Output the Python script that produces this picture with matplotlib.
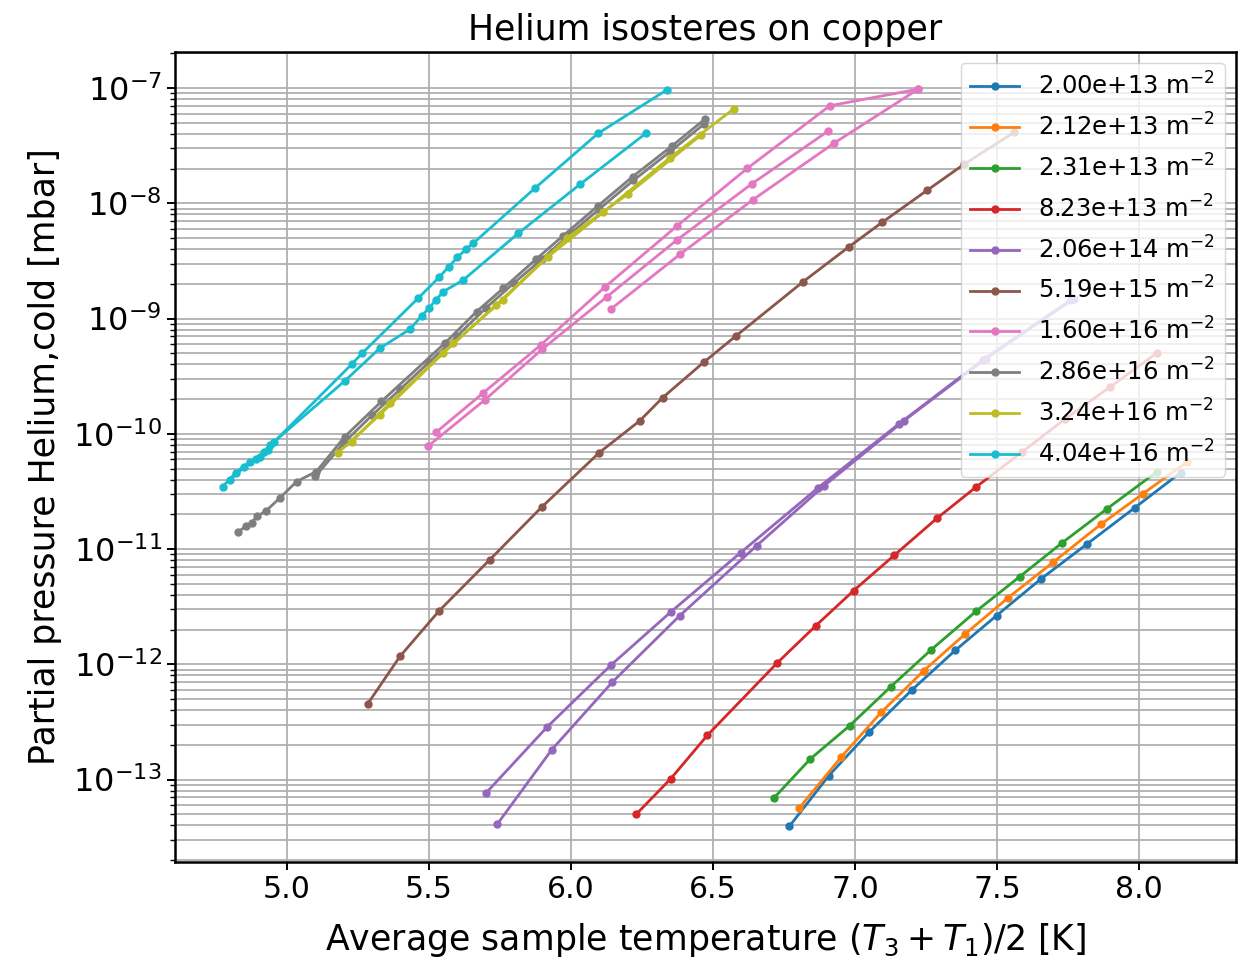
import matplotlib
matplotlib.use("Agg")
import matplotlib.pyplot as plt
import numpy as np

# ---- data ----
labels = ["2.00e+13", "2.12e+13", "2.31e+13", "8.23e+13", "2.06e+14",
          "5.19e+15", "1.60e+16", "2.86e+16", "3.24e+16", "4.04e+16"]

# 2.00e+13
T_blue = [6.769, 6.908, 7.050, 7.200, 7.353, 7.499, 7.654, 7.818, 7.986, 8.147]
p_blue = [3.92e-14, 1.08e-13, 2.58e-13, 5.97e-13, 1.32e-12, 2.65e-12, 5.48e-12, 1.11e-11, 2.29e-11, 4.61e-11]
# 2.12e+13
T_orange = [6.804, 6.951, 7.092, 7.243, 7.389, 7.540, 7.698, 7.866, 8.015, 8.171]
p_orange = [5.66e-14, 1.56e-13, 3.82e-13, 8.83e-13, 1.84e-12, 3.79e-12, 7.69e-12, 1.64e-11, 3.03e-11, 5.74e-11]
# 2.31e+13
T_green = [6.715, 6.843, 6.982, 7.126, 7.269, 7.427, 7.581, 7.729, 7.887, 8.064]
p_green = [6.92e-14, 1.51e-13, 2.94e-13, 6.38e-13, 1.34e-12, 2.89e-12, 5.78e-12, 1.13e-11, 2.23e-11, 4.70e-11]
# 8.23e+13
T_red = [6.230, 6.352, 6.481, 6.725, 6.863, 6.996, 7.139, 7.289, 7.427, 7.590, 7.739, 7.898, 8.062]
p_red = [5.0e-14, 1.02e-13, 2.43e-13, 1.02e-12, 2.17e-12, 4.37e-12, 8.85e-12, 1.85e-11, 3.46e-11, 7.0e-11, 1.34e-10, 2.54e-10, 5.0e-10]
# 2.06e+14 (two runs)
T_purple_a = [5.701, 5.917, 6.141, 6.352, 6.598, 6.871, 7.155, 7.45, 7.76]
p_purple_a = [7.64e-14, 2.87e-13, 9.84e-13, 2.85e-12, 9.33e-12, 3.41e-11, 1.22e-10, 4.37e-10, 1.45e-9]
T_purple_b = [5.741, 5.933, 6.146, 6.383, 6.654, 6.891, 7.173, 7.46, 7.77]
p_purple_b = [4.11e-14, 1.82e-13, 7.01e-13, 2.64e-12, 1.07e-11, 3.53e-11, 1.30e-10, 4.47e-10, 1.48e-9]
# 5.19e+15
T_brown = [5.284, 5.398, 5.536, 5.715, 5.897, 6.100, 6.243, 6.323, 6.468, 6.581,
           6.818, 6.980, 7.096, 7.255, 7.384, 7.560]
p_brown = [4.52e-13, 1.17e-12, 2.91e-12, 8.11e-12, 2.31e-11, 6.87e-11, 1.30e-10, 2.06e-10, 4.18e-10, 7.06e-10,
           2.09e-9, 4.21e-9, 6.84e-9, 1.30e-8, 2.18e-8, 4.12e-8]
# 1.60e+16 (three runs)
T_pink_a = [5.525, 5.691, 5.894, 6.120, 6.372, 6.621, 6.912, 7.223]
p_pink_a = [1.03e-10, 2.26e-10, 5.90e-10, 1.88e-9, 6.31e-9, 2.01e-8, 7.03e-8, 9.79e-8]
T_pink_b = [5.498, 5.697, 5.899, 6.126, 6.372, 6.636, 6.906]
p_pink_b = [7.85e-11, 1.97e-10, 5.42e-10, 1.54e-9, 4.78e-9, 1.47e-8, 4.24e-8]
T_pink_c = [6.141, 6.384, 6.640, 6.926, 7.223]
p_pink_c = [1.21e-9, 3.61e-9, 1.07e-8, 3.32e-8, 9.79e-8]
# 2.86e+16 (two runs)
T_gray_a = [4.829, 4.856, 4.876, 4.895, 4.928, 4.975, 5.034, 5.104, 5.204, 5.333,
            5.556, 5.668, 5.762, 5.877, 5.973, 6.096, 6.217, 6.357, 6.472]
p_gray_a = [1.42e-11, 1.57e-11, 1.70e-11, 1.92e-11, 2.16e-11, 2.77e-11, 3.85e-11, 4.71e-11, 9.46e-11, 1.91e-10,
            6.11e-10, 1.15e-9, 1.83e-9, 3.27e-9, 5.24e-9, 9.53e-9, 1.70e-8, 3.16e-8, 5.38e-8]
T_gray_b = [5.10, 5.20, 5.30, 5.40, 5.50, 5.60, 5.70, 5.80, 5.90, 6.00, 6.10, 6.22, 6.35, 6.47]
p_gray_b = [4.27e-11, 8.32e-11, 1.45e-10, 2.45e-10, 4.17e-10, 7.08e-10, 1.23e-9, 2.04e-9, 3.31e-9, 5.50e-9,
            8.91e-9, 1.58e-8, 2.82e-8, 4.90e-8]
# 3.24e+16 (two runs)
T_olive_a = [5.181, 5.327, 5.550, 5.736, 5.920, 6.114, 6.349, 6.574]
p_olive_a = [6.87e-11, 1.46e-10, 5.00e-10, 1.31e-9, 3.44e-9, 8.36e-9, 2.49e-8, 6.62e-8]
T_olive_b = [5.228, 5.363, 5.586, 5.760, 5.985, 6.200, 6.458]
p_olive_b = [8.55e-11, 1.85e-10, 6.11e-10, 1.45e-9, 4.98e-9, 1.20e-8, 3.91e-8]
# 4.04e+16 (two runs)
T_cyan_a = [4.774, 4.820, 4.870, 4.905, 4.934, 4.954, 5.228, 5.265, 5.462, 5.536,
            5.570, 5.600, 5.630, 5.656, 5.873, 6.096, 6.337]
p_cyan_a = [3.49e-11, 4.60e-11, 5.75e-11, 6.35e-11, 7.24e-11, 8.45e-11, 4.01e-10, 5.00e-10, 1.50e-9, 2.28e-9,
            2.82e-9, 3.39e-9, 3.98e-9, 4.50e-9, 1.35e-8, 4.05e-8, 9.62e-8]
T_cyan_b = [4.80, 4.85, 4.89, 4.92, 4.94, 5.204, 5.327, 5.433, 5.474, 5.500,
            5.525, 5.550, 5.621, 5.815, 6.032, 6.264]
p_cyan_b = [3.98e-11, 5.13e-11, 6.03e-11, 6.92e-11, 7.94e-11, 2.88e-10, 5.52e-10, 8.07e-10, 1.05e-9, 1.23e-9,
            1.45e-9, 1.71e-9, 2.16e-9, 5.50e-9, 1.46e-8, 4.05e-8]

series = [
    [(T_blue, p_blue)],
    [(T_orange, p_orange)],
    [(T_green, p_green)],
    [(T_red, p_red)],
    [(T_purple_a, p_purple_a), (T_purple_b, p_purple_b)],
    [(T_brown, p_brown)],
    [(T_pink_a, p_pink_a), (T_pink_b, p_pink_b), (T_pink_c, p_pink_c)],
    [(T_gray_a, p_gray_a), (T_gray_b, p_gray_b)],
    [(T_olive_a, p_olive_a), (T_olive_b, p_olive_b)],
    [(T_cyan_a, p_cyan_a), (T_cyan_b, p_cyan_b)],
]

# ---- plot ----
plt.rcParams['font.family'] = ['DejaVu Sans']
fig = plt.figure(figsize=(12.41, 9.65), dpi=100)
ax = fig.add_axes([0.141, 0.107, 0.855, 0.839])

for i, (lab, runs) in enumerate(zip(labels, series)):
    color = f"C{i}"
    for j, (T, p) in enumerate(runs):
        ax.plot(T, p, marker='o', markersize=5, linewidth=2.0, color=color,
                label=(lab + r" m$^{-2}$") if j == 0 else None)

ax.set_yscale('log')
ax.set_xlim(4.606, 8.342)
ax.set_ylim(10**-13.713, 10**-6.688)
ax.grid(True, which='both', color='#b0b0b0', linewidth=1.3)
ax.set_axisbelow(True)

for s in ax.spines.values():
    s.set_linewidth(1.8)
ax.tick_params(axis='x', which='major', labelsize=21.5, length=6, width=1.4)
ax.tick_params(axis='y', which='major', labelsize=23, length=6, width=1.4)
ax.tick_params(axis='both', which='minor', length=3.5, width=1.0)

ax.set_title("Helium isosteres on copper", fontsize=25, pad=9)
ax.set_xlabel(r"Average sample temperature $(T_3 + T_1)/2$ [K]", fontsize=25, labelpad=12)
ax.set_ylabel("Partial pressure Helium,cold [mbar]", fontsize=25, labelpad=8)
ax.legend(loc='upper right', fontsize=17.5, handlelength=2.0, labelspacing=0.56,
          borderaxespad=0.45)

fig.savefig("out.png", dpi=100)
